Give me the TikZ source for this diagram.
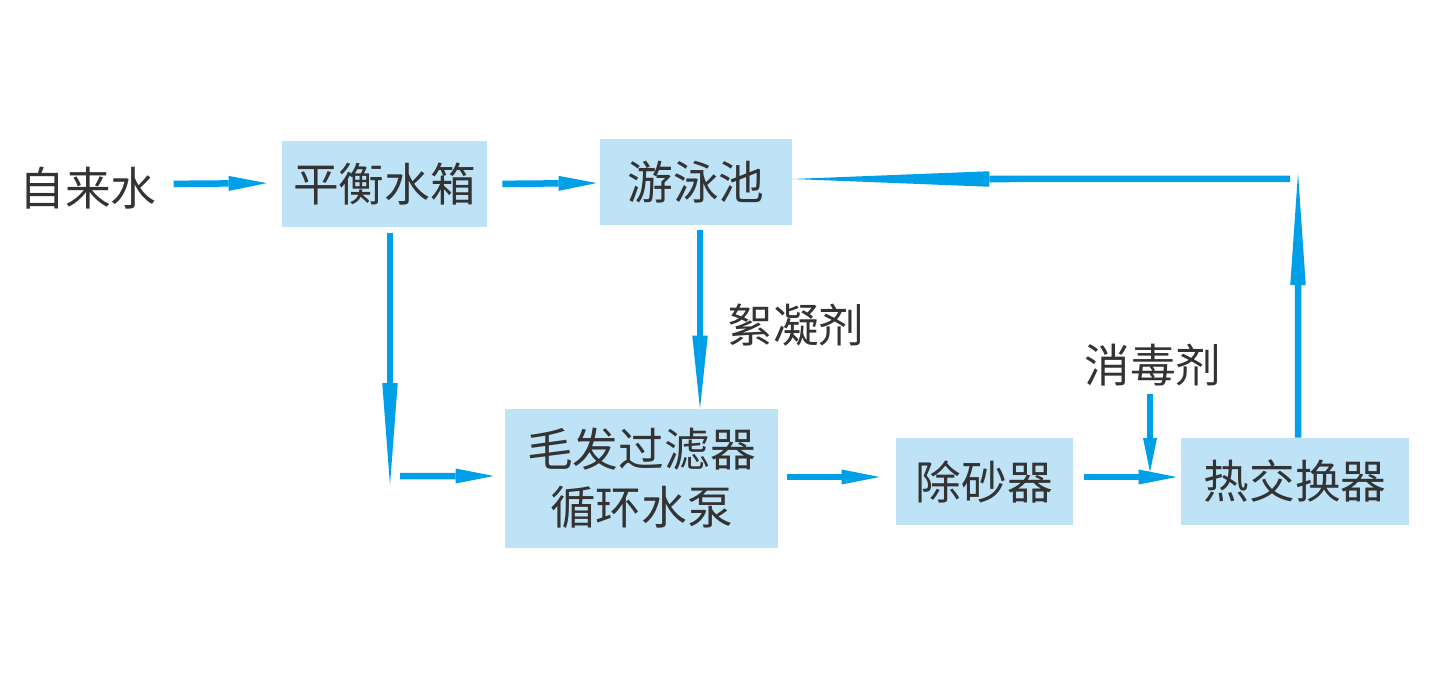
\documentclass[tikz,border=0pt]{standalone}
\usepackage{fontspec}
\setmainfont{Noto Sans CJK SC}
\usetikzlibrary{arrows.meta,positioning}
\definecolor{flowblue}{HTML}{00A0E9}
\definecolor{boxblue}{HTML}{BEE3F7}
\definecolor{inkgray}{HTML}{333333}

\begin{document}
\begin{tikzpicture}[
  box/.style={rectangle, fill=boxblue, align=center, font=\fontsize{26}{33}\selectfont, text=inkgray, inner sep=0pt},
  note/.style={font=\fontsize{26}{33}\selectfont, text=inkgray, inner sep=1pt},
  arrow/.style={-{Triangle[length=0.76cm, width=0.3cm, line width=0pt]}, line width=0.13cm, draw=flowblue},
  longarrow/.style={-{Triangle[length=#1, width=0.31cm, line width=0pt]}, line width=0.13cm, draw=flowblue},
]
\useasboundingbox (0,0) rectangle (28.6,13.7);

% === nodes ===
\node[note] (tap) at (1.76, 9.94) {自来水};
\node[box, minimum width=4.1cm, minimum height=1.72cm] (bal) at (7.69, 10.02) {平衡水箱};
\node[box, minimum width=3.84cm, minimum height=1.72cm] (pool) at (13.92, 10.06) {游泳池};
\node[box, minimum width=5.46cm, minimum height=2.78cm] (filt) at (12.83, 4.13) {毛发过滤器\\循环水泵};
\node[box, minimum width=3.54cm, minimum height=1.74cm] (sand) at (19.69, 4.07) {除砂器};
\node[box, minimum width=4.56cm, minimum height=1.74cm] (heat) at (25.9, 4.07) {热交换器};
\node[note] (floc) at (15.92, 7.2) {絮凝剂};
\node[note] (dis) at (23.06, 6.4) {消毒剂};

\coordinate (bend) at (7.8, 4.0);
\coordinate (top) at (25.96, 10.24);

% === flow ===
\draw[arrow, shorten <=0.3cm, shorten >=0.3cm] ([yshift=0.08cm]tap.east) -- ([yshift=0.02cm]bal.west);
\draw[arrow, shorten <=0.3cm, shorten >=0.06cm] ([yshift=0.0cm]bal.east) -- ([yshift=-0.02cm]pool.west);
\draw[longarrow=2.04cm, shorten <=0.12cm] ([xshift=0.11cm]bal.south) -- (bend);
\draw[arrow, shorten >=0.22cm] ([xshift=0.2cm,yshift=0.18cm]bend) -- ([yshift=0.05cm]filt.west);
\draw[longarrow=1.46cm, shorten <=0.1cm] ([xshift=0.08cm]pool.south) -- ([xshift=0.08cm]pool.south |- filt.north);
\draw[arrow, shorten <=0.18cm, shorten >=0.32cm] ([yshift=0.03cm]filt.east) -- ([yshift=0.09cm]sand.west);
\draw[arrow, shorten <=0.22cm, shorten >=0.08cm] ([yshift=0.09cm]sand.east) -- ([yshift=0.09cm]heat.west);
\draw[arrow, -{Triangle[length=0.68cm, width=0.28cm, line width=0pt]}, shorten <=0.12cm, shorten >=0.19cm] ([xshift=-0.06cm]dis.south) -- ([xshift=-0.06cm]dis.south |- heat.west);
\draw[longarrow=2.24cm] ([xshift=0.06cm]heat.north) -- (top);
\draw[longarrow=3.94cm] ([xshift=-0.16cm,yshift=-0.12cm]top) -- ([yshift=0.06cm]pool.east);

\end{tikzpicture}
\end{document}
